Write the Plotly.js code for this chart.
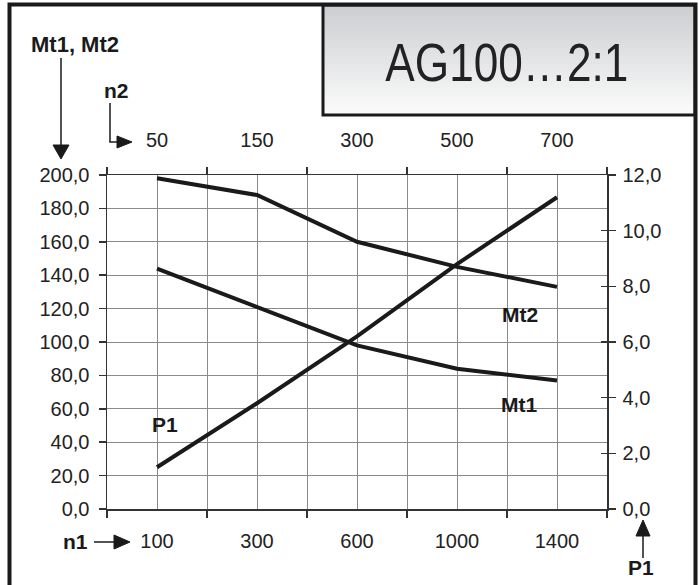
<!DOCTYPE html>
<html>
<head>
<meta charset="utf-8">
<script src="https://cdn.plot.ly/plotly-3.0.1.min.js"></script>
<style>html,body{margin:0;padding:0;background:#fff;}#chart{width:699px;height:585px;}</style>
</head>
<body>
<div id="chart"></div>
<script>
// ---- data ----
const n1 = ['100', '300', '600', '1000', '1400'];   // input speed (bottom axis)
const n2 = ['50', '150', '300', '500', '700'];      // output speed (top axis)
const mt1 = [144, 121, 98, 84, 77];                  // input torque (left axis)
const mt2 = [198, 188, 160, 145, 133];               // output torque (left axis)
const p1 = [1.5, 3.8, 6.2, 8.8, 11.2];               // power (right axis)
const titleText = 'AG100…2:1';

// ---- geometry helpers (pixel -> paper) ----
const W = 699, H = 585, L = 107, R = 92, T = 175, B = 76;
const PW = W - L - R, PH = H - T - B;
const px = x => (x - L) / PW;
const py = y => (H - B - y) / PH;

const FONT = 'Liberation Sans, Arial, Helvetica, sans-serif';
const INK = '#1a1a1a';
const GRID = '#8a8a8a';
const AX = '#333333';

const lineStyle = {color: INK, width: 4};
const traces = [
  {x: n1, y: mt1, type: 'scatter', mode: 'lines', line: lineStyle, xaxis: 'x', yaxis: 'y', name: 'Mt1', hoverinfo: 'x+y'},
  {x: n2, y: mt2, type: 'scatter', mode: 'lines', line: lineStyle, xaxis: 'x3', yaxis: 'y', name: 'Mt2', hoverinfo: 'x+y'},
  {x: n1, y: p1, type: 'scatter', mode: 'lines', line: lineStyle, xaxis: 'x', yaxis: 'y2', name: 'P1', hoverinfo: 'x+y'},
  {x: [], y: [], type: 'scatter', mode: 'lines', xaxis: 'x2', yaxis: 'y', showlegend: false, hoverinfo: 'skip'},
  {x: [], y: [], type: 'scatter', mode: 'lines', xaxis: 'x', yaxis: 'y3', showlegend: false, hoverinfo: 'skip'}
];

// gradient bands for the title box
const shapes = [];
const boxL = 323, boxR = 695, boxT = 5, boxB = 115, bands = 30;
const c0 = [204, 206, 209], c1 = [251, 251, 251];
for (let i = 0; i < bands; i++) {
  const t = i / (bands - 1);
  const c = c0.map((v, k) => Math.round(v + (c1[k] - v) * t));
  const y0 = boxT + (boxB - boxT) * i / bands;
  const y1 = boxT + (boxB - boxT) * (i + 1) / bands + 0.6;
  shapes.push({type: 'rect', xref: 'paper', yref: 'paper', x0: px(boxL), x1: px(boxR), y0: py(y0), y1: py(Math.min(y1, boxB)),
    fillcolor: `rgb(${c[0]},${c[1]},${c[2]})`, line: {width: 0}, layer: 'above'});
}
shapes.push({type: 'rect', xref: 'paper', yref: 'paper', x0: px(boxL), x1: px(boxR), y0: py(boxT), y1: py(boxB),
  line: {color: INK, width: 3}, layer: 'above'});
// outer frame
shapes.push({type: 'rect', xref: 'paper', yref: 'paper', x0: px(9.5), x1: px(695.5), y0: py(4.5), y1: py(600),
  line: {color: INK, width: 4}, layer: 'above'});

// arrows
function seg(x0, y0, x1, y1, w) {
  shapes.push({type: 'line', xref: 'paper', yref: 'paper', x0: px(x0), y0: py(y0), x1: px(x1), y1: py(y1), line: {color: INK, width: w || 1.5}, layer: 'above'});
}
function tri(pts) {
  const d = 'M' + pts.map(p => px(p[0]) + ',' + py(p[1])).join('L') + 'Z';
  shapes.push({type: 'path', xref: 'paper', yref: 'paper', path: d, fillcolor: INK, line: {color: INK, width: 1}, layer: 'above'});
}
// Mt1, Mt2 arrow (down)
seg(61, 58, 61, 146); tri([[53, 145], [69, 145], [61, 159]]);
// n2 arrow (down then right)
seg(110, 103, 110, 142); seg(109.3, 142, 118, 142); tri([[117, 136], [117, 148], [132, 142]]);
// n1 arrow (right)
seg(94, 542, 115, 542); tri([[114, 535], [114, 549], [130, 542]]);
// P1 arrow (up)
seg(643, 535, 643, 558); tri([[636, 536], [650, 536], [643, 520]]);

function label(text, x, y, size) {
  return {text: '<b>' + text + '</b>', xref: 'paper', yref: 'paper', x: px(x), y: py(y), xanchor: 'center', yanchor: 'middle',
    showarrow: false, font: {family: FONT, size: size || 21, color: INK}};
}
const annotations = [
  {text: titleText, xref: 'paper', yref: 'paper', x: px(507), y: py(62), xanchor: 'center', yanchor: 'middle', showarrow: false,
    font: {family: FONT, size: 53, color: '#222'}, name: 'maintitle'},
  label('Mt1, Mt2', 75, 44, 22),
  label('n2', 116, 90),
  label('n1', 75, 541),
  label('P1', 641, 567),
  label('P1', 165, 424),
  label('Mt2', 520, 314),
  label('Mt1', 519, 404)
];

const tickFont = {family: FONT, size: 20, color: '#222'};
const layout = {
  width: W, height: H,
  margin: {l: L, r: R, t: T, b: B, pad: 0},
  paper_bgcolor: '#fff', plot_bgcolor: '#fff',
  separators: ',.',
  showlegend: false,
  xaxis: {type: 'category', categoryarray: n1, categoryorder: 'array', range: [-0.5, 4.5],
    showgrid: true, gridcolor: GRID, gridwidth: 1, ticks: '', showline: true, linecolor: AX, linewidth: 1.5, mirror: true,
    tickfont: tickFont, ticklabelstandoff: 13, zeroline: false, fixedrange: true},
  xaxis2: {overlaying: 'x', anchor: 'y', side: 'bottom', range: [-0.5, 4.5], tickmode: 'linear', tick0: -0.5, dtick: 1,
    showgrid: true, gridcolor: GRID, gridwidth: 1, ticks: 'outside', ticklen: 7, tickwidth: 1.5, tickcolor: AX, mirror: 'ticks',
    showline: true, linecolor: AX, linewidth: 1.5, showticklabels: false, zeroline: false, fixedrange: true},
  xaxis3: {type: 'category', categoryarray: n2, categoryorder: 'array', overlaying: 'x', anchor: 'y', side: 'top', range: [-0.5, 4.5],
    showgrid: false, ticks: '', showline: false, tickfont: tickFont, ticklabelstandoff: 23, zeroline: false, fixedrange: true},
  yaxis: {range: [0, 200], tickmode: 'linear', tick0: 0, dtick: 20, tickformat: '.1f',
    showgrid: true, gridcolor: GRID, gridwidth: 1, ticks: 'outside', ticklen: 7, tickwidth: 1.5, tickcolor: AX,
    showline: true, linecolor: AX, linewidth: 1.5, tickfont: tickFont, ticklabelstandoff: 5, zeroline: false, fixedrange: true},
  yaxis2: {overlaying: 'y', anchor: 'x', side: 'right', range: [0, 12], tickmode: 'linear', tick0: 0, dtick: 2, tickformat: '.1f',
    showgrid: false, ticks: 'outside', ticklen: 7, tickwidth: 1.5, tickcolor: AX, showline: true, linecolor: AX, linewidth: 1.5,
    tickfont: tickFont, ticklabelstandoff: 3, zeroline: false, fixedrange: true},
  yaxis3: {overlaying: 'y', anchor: 'x', side: 'right', range: [0, 12], tickmode: 'linear', tick0: 0, dtick: 2,
    showgrid: false, ticks: 'inside', ticklen: 6, tickwidth: 1.5, tickcolor: AX, showline: false, showticklabels: false,
    zeroline: false, fixedrange: true},
  shapes: shapes,
  annotations: annotations
};

Plotly.newPlot('chart', traces, layout, {displayModeBar: false, staticPlot: true}).then(gd => {
  // condense the big title text to the narrow face used in the reference
  const t = gd.querySelector('.annotation[data-index="0"] text');
  if (t) {
    t.setAttribute('textLength', '243');
    t.setAttribute('lengthAdjust', 'spacingAndGlyphs');
  }
});
</script>
</body>
</html>
